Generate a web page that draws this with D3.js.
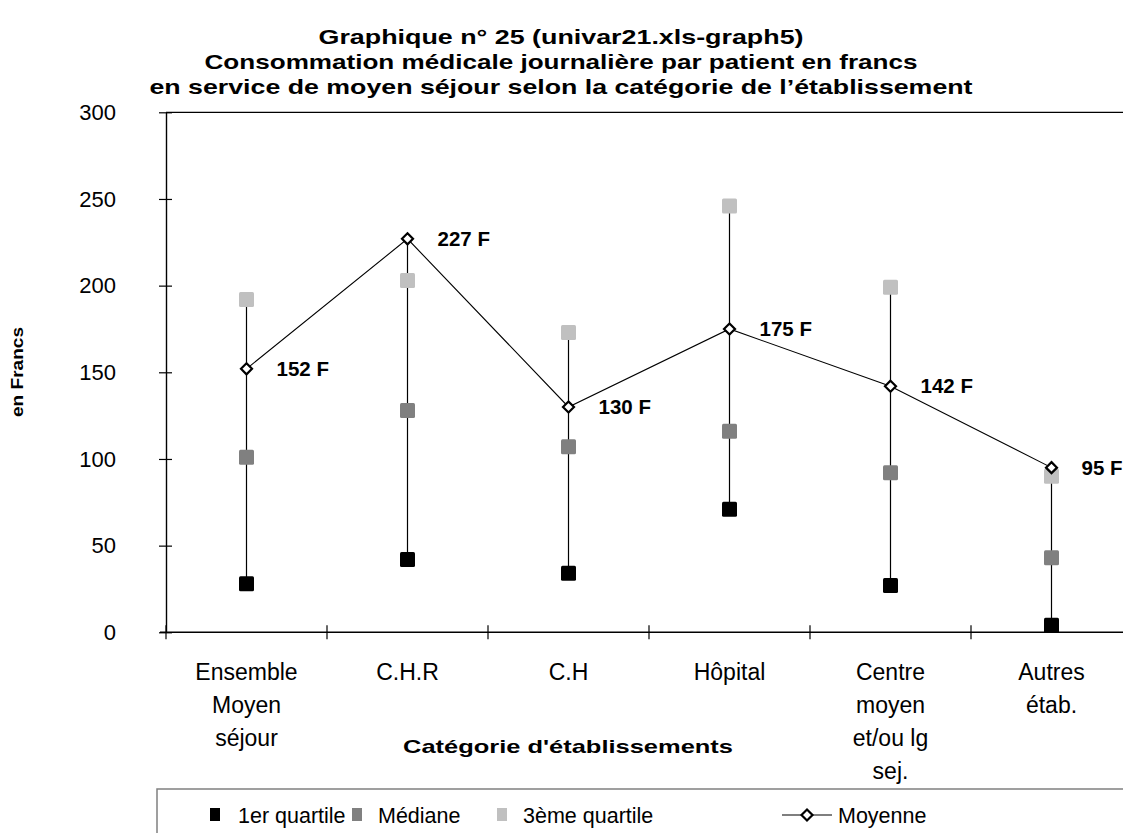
<!DOCTYPE html>
<html>
<head>
<meta charset="utf-8">
<script src="https://cdn.jsdelivr.net/npm/d3@7"></script>
<style>
  html, body { margin: 0; padding: 0; background: #fff; }
  svg { display: block; font-family: "Liberation Sans", Arial, sans-serif; }
</style>
</head>
<body>
<svg id="chart" width="1123" height="833"></svg>
<script>
// Daily medical consumption per patient (francs), by establishment category
const categories = [
  ["Ensemble", "Moyen", "séjour"],
  ["C.H.R"],
  ["C.H"],
  ["Hôpital"],
  ["Centre", "moyen", "et/ou lg", "sej."],
  ["Autres", "étab."]
];
const q1      = [28, 42, 34, 71, 27, 4];
const median  = [101, 128, 107, 116, 92, 43];
const q3      = [192, 203, 173, 246, 199, 90];
const moyenne = [152, 227, 130, 175, 142, 95];
const yTicks  = [0, 50, 100, 150, 200, 250, 300];
const titleLines = [
  "Graphique n° 25 (univar21.xls-graph5)",
  "Consommation médicale journalière par patient en francs",
  "en service de moyen séjour selon la catégorie de l’établissement"
];
const legendItems = ["1er quartile", "Médiane", "3ème quartile", "Moyenne"];

const colors = { q1: "#000000", median: "#808080", q3: "#c0c0c0" };

const svg = d3.select("#chart");
const plot = { left: 166, right: 1132, top: 112.3, bottom: 632.3 };

const x = d3.scaleBand()
  .domain(d3.range(categories.length))
  .range([plot.left, plot.right])
  .padding(0);
const y = d3.scaleLinear().domain([0, 300]).range([plot.bottom, plot.top]);
const cx = i => x(i) + x.bandwidth() / 2;

// Title: wide bold face, each line stretched to its set width
const titleWidths = [485, 713, 823];
svg.append("g").selectAll("text")
  .data(titleLines)
  .join("text")
  .attr("x", 561)
  .attr("y", (d, i) => 44 + i * 25)
  .attr("text-anchor", "middle")
  .attr("font-weight", "bold")
  .attr("font-size", 20.5)
  .attr("textLength", (d, i) => titleWidths[i])
  .attr("lengthAdjust", "spacingAndGlyphs")
  .text(d => d);

// Plot frame top edge
svg.append("line")
  .attr("x1", plot.left).attr("x2", plot.right)
  .attr("y1", plot.top).attr("y2", plot.top)
  .attr("stroke", "#000").attr("stroke-width", 1.2);

// Y axis
const yAxis = d3.axisLeft(y).tickValues(yTicks).tickSize(0).tickPadding(50);
const gy = svg.append("g")
  .attr("transform", `translate(${plot.left},0)`)
  .call(yAxis);
gy.select(".domain").attr("stroke", "#000").attr("stroke-width", 1.4);
gy.selectAll(".tick text")
  .attr("font-size", 22)
  .attr("font-family", "Liberation Sans, Arial, sans-serif")
  .attr("fill", "#000");
gy.selectAll(".tick").append("line")
  .attr("x1", -7).attr("x2", 6)
  .attr("stroke", "#000").attr("stroke-width", 1.2);

// X axis with ticks at category boundaries
const bounds = d3.range(categories.length + 1).map(i => plot.left + i * x.bandwidth());
svg.append("line")
  .attr("x1", plot.left - 6).attr("x2", plot.right)
  .attr("y1", plot.bottom).attr("y2", plot.bottom)
  .attr("stroke", "#000").attr("stroke-width", 1.4);
svg.append("g").selectAll("line")
  .data(bounds)
  .join("line")
  .attr("x1", d => d).attr("x2", d => d)
  .attr("y1", plot.bottom - 7).attr("y2", plot.bottom + 7)
  .attr("stroke", "#000").attr("stroke-width", 1.2);

// Category labels
const catG = svg.append("g");
categories.forEach((lines, i) => {
  catG.append("g").selectAll("text")
    .data(lines)
    .join("text")
    .attr("x", cx(i))
    .attr("y", (d, k) => 680 + k * 33)
    .attr("text-anchor", "middle")
    .attr("font-size", 23)
    .text(d => d);
});

// Axis titles
svg.append("text")
  .attr("x", 568).attr("y", 753)
  .attr("text-anchor", "middle")
  .attr("font-weight", "bold").attr("font-size", 19)
  .attr("textLength", 330)
  .attr("lengthAdjust", "spacingAndGlyphs")
  .text("Catégorie d'établissements");
svg.append("text")
  .attr("transform", "translate(23,372) rotate(-90)")
  .attr("text-anchor", "middle")
  .attr("font-weight", "bold").attr("font-size", 16.5)
  .attr("textLength", 90)
  .attr("lengthAdjust", "spacingAndGlyphs")
  .text("en Francs");

// High-low lines spanning all series per category
const idx = d3.range(categories.length);
svg.append("g").selectAll("line")
  .data(idx)
  .join("line")
  .attr("x1", cx).attr("x2", cx)
  .attr("y1", i => y(d3.min([q1[i], median[i], q3[i], moyenne[i]])))
  .attr("y2", i => y(d3.max([q1[i], median[i], q3[i], moyenne[i]])))
  .attr("stroke", "#000").attr("stroke-width", 1.2);

// Quartile / median squares
const sq = 15;
[[q1, colors.q1], [median, colors.median], [q3, colors.q3]].forEach(([vals, col]) => {
  svg.append("g").selectAll("rect")
    .data(vals)
    .join("rect")
    .attr("x", (d, i) => cx(i) - sq / 2)
    .attr("y", d => y(d) - sq / 2)
    .attr("width", sq).attr("height", sq)
    .attr("rx", 1.5)
    .attr("fill", col);
});

// Mean line and diamonds
const line = d3.line().x((d, i) => cx(i)).y(d => y(d));
svg.append("path")
  .attr("d", line(moyenne))
  .attr("fill", "none").attr("stroke", "#000").attr("stroke-width", 1.1);
const diamond = r => `M0,${-r}L${r},0L0,${r}L${-r},0Z`;
svg.append("g").selectAll("path")
  .data(moyenne)
  .join("path")
  .attr("transform", (d, i) => `translate(${cx(i)},${y(d)})`)
  .attr("d", diamond(5.5))
  .attr("fill", "#fff").attr("stroke", "#000").attr("stroke-width", 2.2);

// Mean value labels
svg.append("g").selectAll("text")
  .data(moyenne)
  .join("text")
  .attr("x", (d, i) => cx(i) + 30)
  .attr("y", d => y(d))
  .attr("dy", "0.35em")
  .attr("font-weight", "bold").attr("font-size", 20.5)
  .text(d => `${d} F`);

// Legend
const lg = svg.append("g");
lg.append("path")
  .attr("d", "M157,840V789H1130")
  .attr("fill", "none").attr("stroke", "#808080").attr("stroke-width", 1.5);
const legY = 815;
const legSwatch = [colors.q1, colors.median, colors.q3];
const legX = [215, 357, 502];
const legTextX = [238, 378, 523, 838];
legSwatch.forEach((c, i) => {
  lg.append("rect")
    .attr("x", legX[i] - 5).attr("y", legY - 7)
    .attr("width", 10).attr("height", 13)
    .attr("fill", c);
});
lg.append("line")
  .attr("x1", 782).attr("x2", 832).attr("y1", legY).attr("y2", legY)
  .attr("stroke", "#000").attr("stroke-width", 1.1);
lg.append("path")
  .attr("transform", `translate(807,${legY})`)
  .attr("d", diamond(5.5))
  .attr("fill", "#fff").attr("stroke", "#000").attr("stroke-width", 2.2);
lg.selectAll("text.leg")
  .data(legendItems)
  .join("text")
  .attr("class", "leg")
  .attr("x", (d, i) => legTextX[i])
  .attr("y", legY)
  .attr("dy", "0.35em")
  .attr("font-size", 21.5)
  .text(d => d);
</script>
</body>
</html>
